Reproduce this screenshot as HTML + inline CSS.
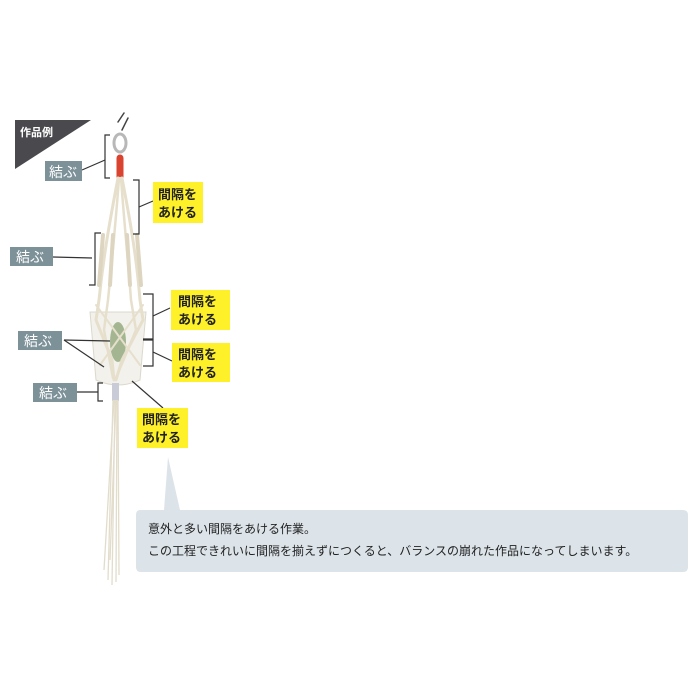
<!DOCTYPE html>
<html><head><meta charset="utf-8"><style>
html,body{margin:0;padding:0;background:#fff;width:700px;height:700px;overflow:hidden}
svg text{font-family:"Liberation Sans","Noto Sans CJK JP",sans-serif}
</style></head><body>
<svg width="700" height="700" viewBox="0 0 700 700" xmlns="http://www.w3.org/2000/svg">
<polygon points="15,120 91,120 15,169" fill="#4a4a4e"/>
<text x="20" y="136" font-size="11" fill="#fff" font-weight="bold">作品例</text>

<!-- pot (behind ropes) -->
<path d="M90,312 L146,312 L140,380 Q118,390 96,380 Z" fill="#f2f1ec" stroke="#dcd8cc" stroke-width="1"/>
<ellipse cx="118" cy="342" rx="8" ry="20" fill="#6f8f55" opacity="0.6"/>

<g stroke="#e6dfcc" fill="none" stroke-linecap="round">
<path d="M118,122 L124,113 M122,130 L128,118" stroke="#444" stroke-width="1.5"/>
<ellipse cx="120" cy="143" rx="6" ry="9" stroke="#b8b8b8" stroke-width="3"/>
<line x1="120" y1="158" x2="120" y2="178" stroke="#d9432f" stroke-width="7"/>
<path d="M118,178 C112,210 104,250 99,300 L96,320 L112,360 L114,380" stroke-width="3"/>
<path d="M122,178 C128,210 136,250 140,300 L143,320 L122,360 L116,380" stroke-width="3"/>
<path d="M119,178 C116,220 112,260 108,300 L104,330 L113,378" stroke-width="2.5"/>
<path d="M121,178 C124,220 128,260 131,300 L136,330 L116,378" stroke-width="2.5"/>
<path d="M96,305 L140,365 M143,305 L100,365" stroke-width="2"/>
<path d="M103,235 L99,285 M137,235 L141,285 M113,235 L110,285 M127,235 L130,285" stroke="#ddd5bf" stroke-width="4"/>
</g>
<rect x="112" y="383" width="7" height="18" fill="#c9ccd6"/>
<g stroke="#e2dccb" stroke-width="1.3" fill="none">
<path d="M113,400 L108,580"/><path d="M115,400 L112,585"/><path d="M117,400 L116,582"/>
<path d="M114,400 L104,570"/><path d="M118,400 L119,575"/><path d="M116,400 L110,560"/>
</g>

<g stroke="#333" stroke-width="1.2" fill="none">
<path d="M110,135 L105,135 L105,178 L110,178"/><line x1="82" y1="170" x2="105" y2="160"/>
<path d="M133,180 L139,180 L139,234 L133,234"/><line x1="139" y1="207" x2="153" y2="201"/>
<path d="M101,233 L95,233 L95,285 L89,285"/><line x1="53" y1="257" x2="92" y2="258"/>
<path d="M143,294 L153,294 L153,339 L143,339"/><line x1="153" y1="316" x2="170" y2="308"/>
<path d="M143,340 L153,340 L153,366 L143,366"/><line x1="153" y1="352" x2="172" y2="361"/>
<line x1="64" y1="340" x2="110" y2="341"/><line x1="64" y1="340" x2="104" y2="367"/>
<path d="M103,383 L98,383 L98,401 L103,401"/><line x1="77" y1="392" x2="98" y2="392"/>
<line x1="132" y1="381" x2="163" y2="408"/>
</g>

<g font-size="14" fill="#fff">
<rect x="45" y="161" width="37" height="20" fill="#7d9198"/><text x="49" y="177">結ぶ</text>
<rect x="10" y="247" width="43" height="19" fill="#7d9198"/><text x="16" y="262">結ぶ</text>
<rect x="18" y="331" width="44" height="19" fill="#7d9198"/><text x="24" y="346">結ぶ</text>
<rect x="33" y="383" width="44" height="19" fill="#7d9198"/><text x="39" y="398">結ぶ</text>
</g>
<g font-size="13" fill="#222" font-weight="bold">
<rect x="153" y="182" width="50" height="41" fill="#fef12a"/><text x="158" y="199">間隔を</text><text x="158" y="217">あける</text>
<rect x="171" y="290" width="59" height="40" fill="#fef12a"/><text x="178" y="306">間隔を</text><text x="178" y="324">あける</text>
<rect x="172" y="343" width="58" height="39" fill="#fef12a"/><text x="178" y="359">間隔を</text><text x="178" y="377">あける</text>
<rect x="137" y="408" width="51" height="40" fill="#fef12a"/><text x="142" y="424">間隔を</text><text x="142" y="442">あける</text>
</g>

<path d="M140,510 L164,510 L168,457 L180,510 L683,510 Q688,510 688,515 L688,567 Q688,572 683,572 L141,572 Q136,572 136,567 L136,515 Q136,510 140,510 Z" fill="#dce4ea"/>
<g font-size="12" fill="#222">
<text x="148" y="533">意外と多い間隔をあける作業。</text>
<text x="148" y="555">この工程できれいに間隔を揃えずにつくると、バランスの崩れた作品になってしまいます。</text>
</g>
</svg>
</body></html>
